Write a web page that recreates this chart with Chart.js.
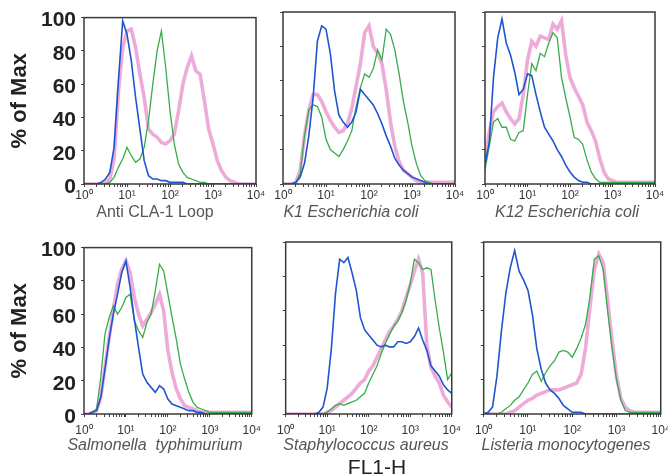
<!DOCTYPE html>
<html>
<head>
<meta charset="utf-8">
<script src="https://cdn.jsdelivr.net/npm/chart.js@4.4.1/dist/chart.umd.min.js"></script>
<style>
  html, body { margin: 0; padding: 0; background: #fff; overflow: hidden; }
  #wrap { position: relative; width: 668px; height: 476px; font-family: "Liberation Sans", Arial, sans-serif; }
  #wrap canvas { position: absolute; }
  .cat { position: absolute; width: 220px; text-align: center; font-size: 16px; line-height: 20px; color: #555; white-space: pre; }
  .it { font-style: italic; }
  #fl1 { position: absolute; left: 317px; top: 455px; width: 120px; text-align: center; font-size: 21px; line-height: 24px; color: #222; }
</style>
</head>
<body>
<div id="wrap">
  <canvas id="c-loop"></canvas>
  <canvas id="c-k1"></canvas>
  <canvas id="c-k12"></canvas>
  <canvas id="c-sal"></canvas>
  <canvas id="c-staph"></canvas>
  <canvas id="c-list"></canvas>
  <div class="cat" style="left:45px;top:202px">Anti CLA-1 Loop</div>
  <div class="cat it" style="left:241px;top:202px">K1 Escherichia coli</div>
  <div class="cat it" style="left:457px;top:202px">K12 Escherichia coli</div>
  <div class="cat it" style="left:45px;top:435px">Salmonella  typhimurium</div>
  <div class="cat it" style="left:256px;top:435px">Staphylococcus aureus</div>
  <div class="cat it" style="left:456px;top:435px">Listeria monocytogenes</div>
  <div id="fl1">FL1-H</div>
</div>
<script>
// FL1-H position in decades (log10), shared by every histogram
var decades = [0, 0.1, 0.2, 0.3, 0.4, 0.5, 0.6, 0.7, 0.8, 0.9,
               1, 1.1, 1.2, 1.3, 1.4, 1.5, 1.6, 1.7, 1.8, 1.9,
               2, 2.1, 2.2, 2.3, 2.4, 2.5, 2.6, 2.7, 2.8, 2.9,
               3, 3.1, 3.2, 3.3, 3.4, 3.5, 3.6, 3.7, 3.8, 3.9, 4];
var decadeTicks = [0, 1, 2, 3, 4];
var tickLabels = ['10\u2070', '10\u00b9', '10\u00b2', '10\u00b3', '10\u2074'];
var yTicks = [0, 20, 40, 60, 80, 100];

// % of Max, per panel: blue, green, pink
var loopBlue  = [0,0,0,0,1,3,7,22,62,98, 90,74,52,33,14,5,3,3,2,2, 1,1,1,1,0,0,0,0,0,0, 0,0,0,0,0,0,0,0,0,0,0];
var loopGreen = [0,0,0,0,0,0,1,4,10,15, 22,17,13,15,22,38,60,80,92,70, 44,24,12,7,4,3,2,1,1,0, 0,0,0,0,0,0,0,0,0,0,0];
var loopPink  = [0,0,0,0,0,1,3,15,55,82, 92,93,82,66,52,33,30,28,25,24, 26,30,44,60,70,77,68,66,50,33, 24,14,8,4,2,1,0,0,0,0,0];

var k1Blue  = [0,0,0,1,4,12,28,50,83,92, 90,76,54,40,36,33,36,42,55,52, 49,46,41,35,28,22,15,11,8,6, 4,3,2,1,0,0,0,0,0,0,0];
var k1Green = [0,0,0,1,6,28,43,46,45,39, 26,20,18,16,20,25,31,45,56,64, 62,67,78,72,90,87,78,64,48,36, 22,12,5,2,1,0,0,0,0,0,0];
var k1Pink  = [0,0,0,1,8,28,43,52,52,48, 42,37,33,30,31,35,44,57,70,88, 92,80,76,70,55,36,22,13,8,6, 4,2,1,1,1,1,1,1,1,1,1];

var k12Blue  = [12,24,62,85,96,82,75,65,52,55, 64,63,52,42,33,29,25,20,16,11, 7,4,2,1,1,0,0,0,0,0, 0,0,0,0,0,0,0,0,0,0,0];
var k12Green = [8,22,36,38,33,33,26,25,30,31, 52,70,66,76,74,82,88,85,62,50, 39,27,26,23,14,7,3,1,1,1, 1,1,1,1,1,1,1,1,1,1,1];
var k12Pink  = [14,30,42,45,47,42,38,35,38,52, 72,83,80,86,85,84,93,90,95,75, 62,56,51,46,36,31,25,15,7,3, 2,1,1,1,1,1,1,1,1,1,1];

var salBlue  = [0,0,1,2,10,27,45,60,72,85, 92,76,57,40,24,19,16,13,17,15, 9,6,5,4,3,2,2,1,1,0, 0,0,0,0,0,0,0,0,0,0,0];
var salGreen = [0,0,1,3,22,48,58,65,60,64, 70,72,56,50,46,55,60,74,90,86, 72,58,45,30,21,13,7,4,3,2, 1,1,1,1,1,1,1,1,1,1,1];
var salPink  = [0,0,1,2,10,28,46,63,78,87, 92,85,70,60,53,57,61,66,72,62, 38,25,15,9,5,4,3,2,1,1, 1,1,1,1,1,1,1,1,1,1,1];

var staphBlue  = [0,0,0,0,0,0,0,0,1,4, 15,38,70,90,88,91,82,72,56,49, 46,43,40,39,40,39,39,42,42,41, 42,45,50,43,37,28,25,22,17,14,12];
var staphGreen = [0,0,0,0,0,0,0,0,0,0, 1,3,5,6,5,6,7,8,10,12, 18,23,28,35,41,46,51,54,59,66, 76,90,88,84,85,84,66,50,36,20,24];
var staphPink  = [0,0,0,0,0,0,0,0,0,0, 1,2,4,6,8,10,12,15,18,20, 25,28,33,38,43,48,51,55,60,68, 75,83,90,82,40,27,22,18,11,7,4];

var listBlue  = [0,1,4,22,48,70,85,95,83,78, 72,58,38,26,18,14,12,9,5,3, 1,1,1,0,0,0,0,0,0,0, 0,0,0,0,0,0,0,0,0,0,0];
var listGreen = [0,0,0,0,1,3,5,8,10,14, 18,23,25,19,24,28,31,36,37,36, 33,38,44,52,68,90,92,84,60,38, 20,8,2,1,1,1,1,1,1,1,1];
var listPink  = [0,0,0,0,0,0,1,2,4,6, 8,9,11,12,13,14,14,14,15,16, 17,18,23,38,62,84,93,88,66,43, 22,9,4,2,1,1,1,1,1,1,1];

var FONT = '"Liberation Sans", Arial, sans-serif';

// minor log ticks between the decades
var xTickValues = [];
decadeTicks.forEach(function(n){
  xTickValues.push(n);
  if (n < 4) {
    for (var k = 2; k <= 9; k++) { xTickValues.push(n + Math.log10(k)); }
  }
});

var framePlugin = {
  id: 'frame',
  afterDatasetsDraw: function(chart){
    var a = chart.chartArea, ctx = chart.ctx;
    ctx.save();
    ctx.strokeStyle = '#3a3a3a';
    ctx.lineWidth = 1.5;
    ctx.strokeRect(a.left, a.top, a.right - a.left, a.bottom - a.top);
    ctx.restore();
  }
};

function points(vals){
  return decades.map(function(d, i){ return {x: d, y: vals[i]}; });
}

function makePanel(id, box, blue, green, pink, showY, tickPad){
  var yw = showY ? box.left : 12;
  var padTop = 12, padRight = 12, xh = 26;
  var canvas = document.getElementById(id);
  canvas.width = yw + box.w + padRight;
  canvas.height = padTop + box.h + xh;
  canvas.style.left = (box.left - yw) + 'px';
  canvas.style.top = (box.top - padTop) + 'px';

  return new Chart(canvas, {
    type: 'line',
    data: {
      datasets: [
        { label: 'blue', data: points(blue), borderColor: '#1f56d0', borderWidth: 1.6 },
        { label: 'green', data: points(green), borderColor: '#36ad4a', borderWidth: 1.3 },
        { label: 'pink', data: points(pink), borderColor: 'rgba(228,120,196,0.62)', borderWidth: 3.6 }
      ]
    },
    options: {
      responsive: false,
      animation: false,
      events: [],
      layout: { padding: { top: padTop, right: padRight, left: 0, bottom: 0 } },
      elements: { point: { radius: 0 }, line: { tension: 0 } },
      plugins: { legend: { display: false }, tooltip: { enabled: false } },
      scales: {
        x: {
          type: 'linear', min: 0, max: 4,
          afterBuildTicks: function(axis){
            axis.ticks = xTickValues.map(function(v){ return {value: v}; });
          },
          afterFit: function(axis){ axis.height = xh; },
          border: { display: false },
          grid: { drawOnChartArea: false, drawTicks: true, tickLength: 3, color: '#444' },
          ticks: {
            autoSkip: false, maxRotation: 0, padding: tickPad,
            color: '#333', font: { family: FONT, size: 12 },
            callback: function(v){
              var i = decadeTicks.indexOf(v);
              return i >= 0 ? tickLabels[i] : '';
            }
          }
        },
        y: {
          min: 0, max: 100,
          afterBuildTicks: function(axis){
            axis.ticks = yTicks.map(function(v){ return {value: v}; });
          },
          afterFit: function(axis){ axis.width = yw; },
          border: { display: false },
          grid: { drawOnChartArea: false, drawTicks: true, tickLength: 3, color: '#444' },
          ticks: {
            display: showY, padding: 5, labelOffset: 3,
            color: '#222', font: { family: FONT, size: 21, weight: 'bold' }
          },
          title: {
            display: showY, text: '% of Max', color: '#222',
            font: { family: FONT, size: 22, weight: 'bold' },
            padding: { top: 7, bottom: 0 }
          }
        }
      }
    },
    plugins: [framePlugin]
  });
}

makePanel('c-loop',  {left: 84,  top: 12,  w: 172, h: 172}, loopBlue,  loopGreen,  loopPink,  true,  1);
makePanel('c-k1',    {left: 283, top: 12,  w: 172, h: 172}, k1Blue,    k1Green,    k1Pink,    false, 1);
makePanel('c-k12',   {left: 485, top: 12,  w: 170, h: 172}, k12Blue,   k12Green,   k12Pink,   false, 1);
makePanel('c-sal',   {left: 84,  top: 242, w: 171, h: 172}, salBlue,   salGreen,   salPink,   true,  6);
makePanel('c-staph', {left: 283, top: 242, w: 172, h: 172}, staphBlue, staphGreen, staphPink, false, 6);
makePanel('c-list',  {left: 481, top: 242, w: 183, h: 172}, listBlue,  listGreen,  listPink,  false, 6);
</script>
</body>
</html>
